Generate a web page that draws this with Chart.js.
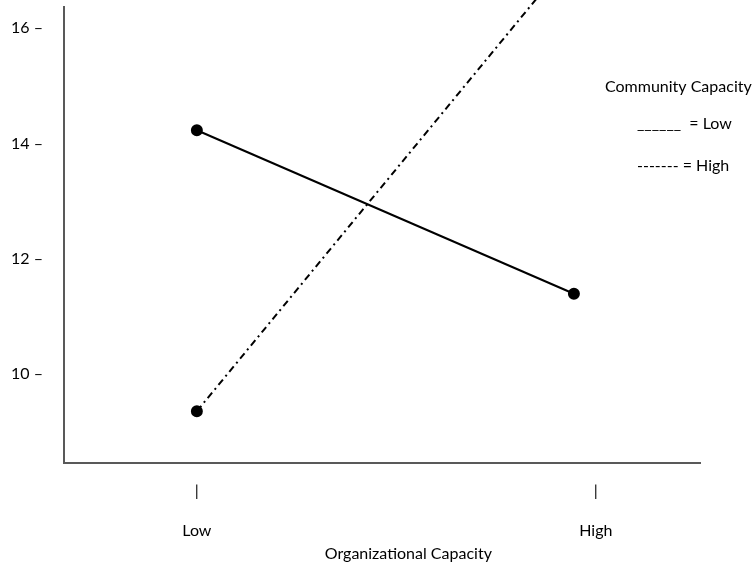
<!DOCTYPE html>
<html>
<head>
<meta charset="utf-8">
<script src="https://cdn.jsdelivr.net/npm/chart.js@4/dist/chart.umd.min.js"></script>
<style>
  body { margin: 0; background: #fff; }
  #wrap { width: 755px; height: 571px; position: relative; }
</style>
</head>
<body>
<div id="wrap"><canvas id="interaction"></canvas></div>
<script>
// Organizational capacity (x) by community capacity (lines)
const categories = ['Low', 'High'];
const categoryX = [0, 1];
const yTicks = [16, 14, 12, 10];

// points (x in category units, y in score units)
const lowCommunityX = [0, 0.945];
const lowCommunity = [14.23, 11.39];
const highCommunityX = [0, 0.852];
const highCommunity = [9.35, 16.52];

const legendTitle = 'Community Capacity';
const legendLines = ['______  = Low', '------- = High'];
const xTitle = 'Organizational Capacity';

const FONT = 'Lato, "Open Sans", sans-serif';
const AXIS_COLOR = '#595959';

const toPoints = (xs, ys) => xs.map((x, i) => ({ x: x, y: ys[i] }));

// legend and axis title drawn as plain text, like the original figure
const textPlugin = {
  id: 'figureText',
  afterDraw(chart) {
    const c = chart.ctx;
    c.save();
    c.fillStyle = '#000';
    c.font = '16px ' + FONT;
    c.textBaseline = 'middle';
    c.textAlign = 'left';
    c.fillText(legendTitle, 605, 87);
    c.fillText(legendLines[0], 637, 124);
    c.fillText(legendLines[1], 637, 166);
    c.textAlign = 'center';
    c.fillText(xTitle, chart.scales.x.getPixelForValue(0.53), 554);
    c.restore();
  }
};

const ctx = document.getElementById('interaction').getContext('2d');

new Chart(ctx, {
  type: 'line',
  data: {
    datasets: [
      {
        label: 'Low',
        data: toPoints(lowCommunityX, lowCommunity),
        borderColor: '#000',
        backgroundColor: '#000',
        borderWidth: 2,
        pointRadius: 5,
        pointHoverRadius: 5,
        clip: false
      },
      {
        label: 'High',
        data: toPoints(highCommunityX, highCommunity),
        borderColor: '#000',
        backgroundColor: '#000',
        borderWidth: 2,
        borderDash: [7, 4, 2, 4],
        pointRadius: 5,
        pointHoverRadius: 5,
        clip: false
      }
    ]
  },
  options: {
    responsive: true,
    maintainAspectRatio: false,
    animation: false,
    layout: {
      padding: { top: 7, right: 55, bottom: 0, left: 0 }
    },
    plugins: {
      legend: { display: false },
      tooltip: { enabled: false }
    },
    scales: {
      x: {
        type: 'linear',
        min: -0.333,
        max: 1.261,
        grid: { display: false, drawTicks: false },
        border: { color: AXIS_COLOR, width: 2 },
        afterBuildTicks: (scale) => {
          scale.ticks = categoryX.map(v => ({ value: v }));
        },
        afterFit: (scale) => {
          scale.height = 108;
          scale.paddingLeft = 0;
          scale.paddingRight = 0;
        },
        ticks: {
          autoSkip: false,
          maxRotation: 0,
          padding: 18,
          color: '#000',
          font: { family: FONT, size: 16, lineHeight: 1.25 },
          callback: (value) => ['|', '', categories[categoryX.indexOf(value)]]
        }
      },
      y: {
        min: 8.45,
        max: 16.37,
        grid: { display: false, drawTicks: false },
        border: { color: AXIS_COLOR, width: 2 },
        afterBuildTicks: (scale) => {
          scale.ticks = yTicks.map(v => ({ value: v }));
        },
        afterFit: (scale) => {
          scale.width = 64;
          scale.paddingTop = 0;
          scale.paddingBottom = 0;
        },
        ticks: {
          padding: 21,
          color: '#000',
          font: { family: FONT, size: 16 },
          callback: (value) => value + ' –'
        }
      }
    }
  },
  plugins: [textPlugin]
});
</script>
</body>
</html>
